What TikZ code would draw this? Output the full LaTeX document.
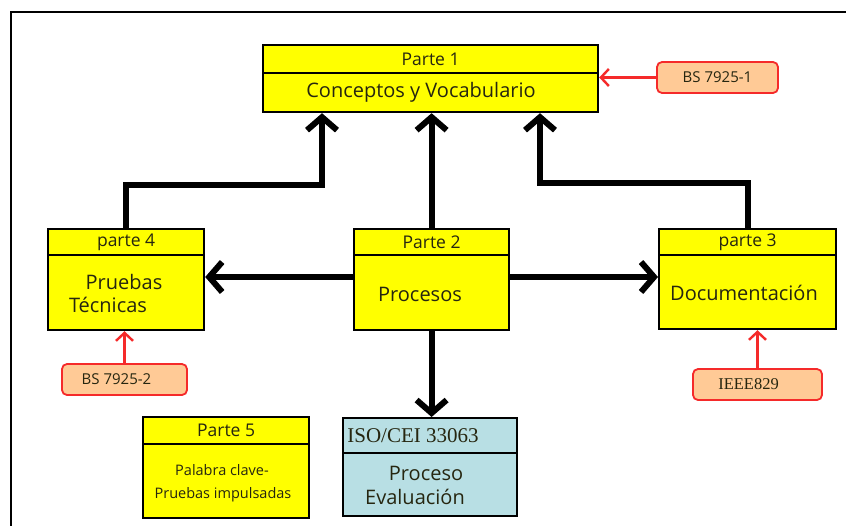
\documentclass[tikz,border=0pt]{standalone}
\usepackage{fontspec}
\setmainfont{Open Sans}
\newfontfamily\seriffont{Liberation Serif}
\usetikzlibrary{arrows.meta,shadows}
\definecolor{boxyellow}{HTML}{FFFF00}
\definecolor{boxteal}{HTML}{B8DFE4}
\definecolor{refpeach}{HTML}{FFCA96}
\definecolor{refred}{HTML}{F52A2A}
\definecolor{txt}{HTML}{262610}
\tikzset{
  box/.style={draw=black, line width=2.2pt, anchor=north west, inner sep=0pt,
    drop shadow={shadow xshift=1.2pt, shadow yshift=-1.2pt, opacity=0.35, fill=black}},
  ybox/.style={box, fill=boxyellow},
  tbox/.style={box, fill=boxteal},
  hdrtext/.style={text=txt, font=\fontsize{17.5}{19}\selectfont},
  bodytext/.style={text=txt, font=\fontsize{20}{22}\selectfont, inner sep=0pt},
  reftag/.style={draw=refred, fill=refpeach, line width=1.8pt, rounded corners=5pt,
    inner sep=0pt, text=txt},
  bigarrow/.style={line width=6pt, line join=miter, -{Straight Barb[length=13pt,width=30pt]}},
  redarrow/.style={draw=refred, line width=2.4pt, -{Straight Barb[length=8pt,width=17pt]}},
}
\begin{document}
\begin{tikzpicture}[x=1pt,y=-1pt]
\useasboundingbox (0,0) rectangle (846,525);
\fill[white] (0,0) rectangle (846,525);
% outer frame
\draw[line width=1.4pt] (11,530) -- (11,12) -- (850,12);

% Parte 1
\node[ybox, minimum width=335pt, minimum height=28pt, hdrtext] (p1h) at (262,44) {Parte 1};
\node[ybox, minimum width=335pt, minimum height=39pt] (p1) at (262,72) {};
\node[bodytext] (t1) at (421,92) {Conceptos y Vocabulario};

% parte 4
\node[ybox, minimum width=156pt, minimum height=26pt, hdrtext] (p4h) at (47,228) {parte 4};
\node[ybox, minimum width=156pt, minimum height=75pt] (p4) at (47,254) {};
\node[bodytext] (t4a) at (124,282) {Pruebas};
\node[bodytext] (t4b) at (108,305) {Técnicas};

% Parte 2
\node[ybox, minimum width=155pt, minimum height=26pt, hdrtext] (p2h) at (353,228) {Parte 2};
\node[ybox, minimum width=155pt, minimum height=75pt] (p2) at (353,254) {};
\node[bodytext] (t2) at (420,294) {Procesos};

% parte 3
\node[ybox, minimum width=177pt, minimum height=26pt, hdrtext] (p3h) at (658,228) {parte 3};
\node[ybox, minimum width=177pt, minimum height=74pt] (p3) at (658,254) {};
\node[bodytext] (t3) at (744,293) {Documentación};

% Parte 5
\node[ybox, minimum width=166pt, minimum height=27pt, hdrtext] (p5h) at (142,416) {Parte 5};
\node[ybox, minimum width=166pt, minimum height=74pt] (p5) at (142,443) {};
\node[text=txt, font=\fontsize{14.5}{16}\selectfont, inner sep=0pt] (t5a) at (222,470) {Palabra clave-};
\node[text=txt, font=\fontsize{14.5}{16}\selectfont, inner sep=0pt] (t5b) at (223,495) {Pruebas impulsadas};

% ISO
\node[tbox, minimum width=174pt, minimum height=35pt] (isoh) at (342,417) {};
\node[text=txt, font=\seriffont\fontsize{21}{23}\selectfont, inner sep=0pt] (tisoh) at (413,436) {ISO/CEI 33063};
\node[tbox, minimum width=174pt, minimum height=63pt] (iso) at (342,452) {};
\node[bodytext] (tisoa) at (426,473) {Proceso};
\node[bodytext] (tisob) at (415,497) {Evaluación};

% reference tags
\node[reftag, minimum width=121pt, minimum height=31pt, font=\fontsize{15}{17}\selectfont] (bs1) at (717.5,77.5) {BS 7925-1};
\node[reftag, minimum width=125pt, minimum height=31pt, font=\fontsize{15}{17}\selectfont] (bs2) at (124.5,379.5) {\hspace*{-16pt}BS 7925-2};
\node[reftag, minimum width=129pt, minimum height=31pt, font=\seriffont\fontsize{16.5}{18}\selectfont] (ieee) at (757.5,384.5) {\hspace*{-18pt}IEEE829};

% black arrows
\coordinate (c4) at (322,185);
\coordinate (c3) at (540,183);
\coordinate (hy) at (0,277);
\draw[bigarrow] (p2h.north) -- (p2h.north |- p1.south);
\draw[bigarrow] (p4h.north) |- (c4) -- (c4 |- p1.south);
\draw[bigarrow] (p3h.north) |- (c3) -- (c3 |- p1.south);
\draw[bigarrow] (p2.west |- hy) -- (p4.east |- hy);
\draw[bigarrow] (p2.east |- hy) -- (p3.west |- hy);
\draw[bigarrow] (p2.south) -- (p2.south |- isoh.north);

% red arrows
\draw[redarrow] (bs1.west) -- (bs1.west -| p1.east);
\draw[redarrow] (bs2.north) -- (bs2.north |- p4.south);
\draw[redarrow] (ieee.north) -- (ieee.north |- p3.south);
\end{tikzpicture}
\end{document}
